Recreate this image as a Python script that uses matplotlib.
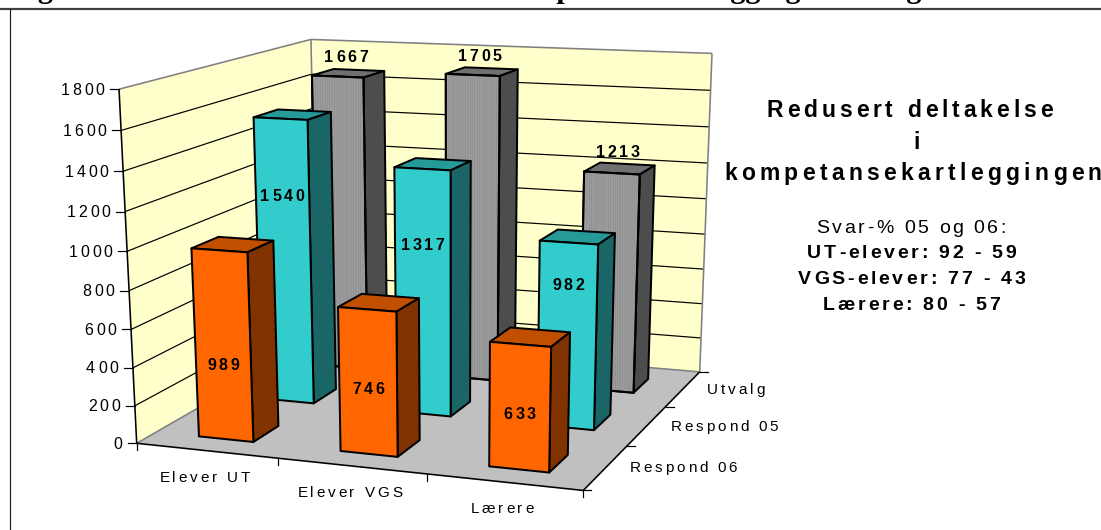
import numpy as np
import matplotlib
matplotlib.use('Agg')
import matplotlib.pyplot as plt
from matplotlib.patches import Polygon
from matplotlib.text import Text

kategorier = ['Elever UT', 'Elever VGS', 'Lærere']
serier = ['Respond 06', 'Respond 05', 'Utvalg']
respond_06 = [989, 746, 633]
respond_05 = [1540, 1317, 982]
utvalg = [1667, 1705, 1213]
y_ticks = [0, 200, 400, 600, 800, 1000, 1200, 1400, 1600, 1800]
svar_linjer = ['UT-elever: 92 - 59', 'VGS-elever: 77 - 43', 'Lærere: 80 - 57']
overskrift = ['Redusert deltakelse', 'i', 'kompetansekartleggingen']
tittel = 'Figur 1.5: Sterkt redusert deltakelse i kompetansekartlegging i 2005 og 2006'

# farger: front, side, topp
farger = [('#FF6600', '#803300', '#C04F00'),
          ('#33CCCC', '#1A6666', '#269999'),
          ('#9C9C9C', '#4D4D4D', '#707070')]
# hvor hoyt paa frontflaten tallet staar
label_hoyde = [[0.405, 0.46, 0.45], [0.735, 0.70, 0.78]]

# hjornene i boksen -> piksler i bildet, brukes til aa finne kameramatrisen
Z_MAX = 1800
box_3d = [(0, 0, 0), (0, 0, Z_MAX), (0, 3, 0), (0, 3, Z_MAX), (3, 3, 0), (3, 3, Z_MAX), (3, 0, 0)]
box_px = [(137, 442), (119, 89), (317, 341), (311, 39), (700, 370), (712, 54), (583, 492)]


def finn_kamera(pts, px):
    rader = []
    for (x, y, z), (u, v) in zip(pts, px):
        z = z / Z_MAX
        rader.append([x, y, z, 1, 0, 0, 0, 0, -u * x, -u * y, -u * z, -u])
        rader.append([0, 0, 0, 0, x, y, z, 1, -v * x, -v * y, -v * z, -v])
    return np.linalg.svd(np.array(rader, dtype=float))[2][-1].reshape(3, 4)


P = finn_kamera(box_3d, box_px)


def proj(x, y, z):
    u, v, w = P @ np.array([x, y, z / Z_MAX, 1.0])
    return u / w, v / w


class SpacedText(Text):
    # Text med luft mellom bokstavene, matplotlib har ikke letter-spacing selv
    def __init__(self, *args, tracking=0, **kwargs):
        super().__init__(*args, **kwargs)
        self.tracking = tracking

    def draw(self, renderer):
        s = self.get_text()
        prop = self.get_fontproperties()
        bredde = lambda t: renderer.get_text_width_height_descent(t, prop, False)[0]
        xx = bredde('xx')
        adv = [bredde('x' + c + 'x') - xx for c in s]
        total = sum(adv) + self.tracking * (len(s) - 1)
        x, y = self.get_transform().transform(self.get_position())
        if self.get_ha() == 'center':
            x -= total / 2
        elif self.get_ha() == 'right':
            x -= total
        y = renderer.height - y
        gc = renderer.new_gc()
        gc.set_foreground(self.get_color())
        gc.set_antialiased(True)
        for c, a in zip(s, adv):
            if c != ' ':
                renderer.draw_text(gc, x, y, c, prop, 0, False)
            x += a + self.tracking
        gc.restore()


plt.rcParams['hatch.linewidth'] = 0.4

fig = plt.figure(figsize=(11.01, 5.30), dpi=100)
ax = fig.add_axes([0, 0, 1, 1])
ax.set_xlim(0, 1101)
ax.set_ylim(530, 0)
ax.axis('off')

PX = 0.72  # en piksel i punkt


def skriv(x, y, s, size=11, bold=False, ha='center', tracking=3.0):
    t = SpacedText(x, y, s, tracking=tracking, ha=ha, va='baseline', color='black',
                   family='Liberation Sans', size=size, weight='bold' if bold else 'normal',
                   transform=ax.transData)
    ax.add_artist(t)
    return t


def flate(pts, farge, kant='black', lw=2.0, z=2):
    ax.add_patch(Polygon([proj(*p) for p in pts], closed=True, facecolor=farge,
                         edgecolor=kant, linewidth=lw * PX, joinstyle='round', zorder=z))


def linje(a, b, farge='black', lw=1.2, z=1.5):
    ax.plot(*zip(a, b), color=farge, lw=lw * PX, zorder=z, solid_capstyle='butt')


# ramme og tittel
ax.plot([0, 1101], [9, 9], color='#404040', lw=2.2 * PX, zorder=1)
ax.plot([10, 10], [9, 530], color='#202020', lw=1.2 * PX, zorder=1)
ax.text(11, -1.5, tittel, family='Liberation Serif', weight='bold', size=21.7, va='baseline', ha='left')

# vegger og gulv
flate([(0, 0, 0), (0, 3, 0), (0, 3, Z_MAX), (0, 0, Z_MAX)], '#FFFFCC', kant='none', z=1)
flate([(0, 3, 0), (3, 3, 0), (3, 3, Z_MAX), (0, 3, Z_MAX)], '#FFFFCC', kant='none', z=1)
flate([(0, 0, 0), (3, 0, 0), (3, 3, 0), (0, 3, 0)], '#C0C0C0', kant='none', z=1)

for t in y_ticks[1:-1]:
    linje(proj(0, 0, t), proj(0, 3, t))
    linje(proj(0, 3, t), proj(3, 3, t))

grå = '#808080'
linje(proj(0, 0, Z_MAX), proj(0, 3, Z_MAX), grå, 1.6)
linje(proj(0, 3, Z_MAX), proj(3, 3, Z_MAX), grå, 1.6)
linje(proj(0, 3, 0), proj(0, 3, Z_MAX), grå, 1.6)
linje(proj(3, 3, 0), proj(3, 3, Z_MAX), grå, 1.6)
linje(proj(0, 0, 0), proj(0, 3, 0), grå, 1.6)
linje(proj(0, 3, 0), proj(3, 3, 0), grå, 1.6)

# akser
linje(proj(0, 0, 0), proj(0, 0, Z_MAX), lw=1.6)
linje(proj(0, 0, 0), proj(3, 0, 0), lw=1.6)
linje(proj(3, 0, 0), proj(3, 3, 0), lw=1.6)

for t in y_ticks:
    u, v = proj(0, 0, t)
    ax.plot([u - 9, u], [v, v], color='black', lw=1.2 * PX, zorder=1.5)
    skriv(u - 14.5, v + 5.5, str(t), ha='right', size=11.5, tracking=2.8)

for i in range(4):
    u, v = proj(i, 0, 0)
    ax.plot([u, u], [v, v + 7], color='black', lw=1.2 * PX, zorder=1.5)
for i in range(4):
    u, v = proj(3, i, 0)
    ax.plot([u, u + 8], [v, v], color='black', lw=1.2 * PX, zorder=1.5)

for i, navn in enumerate(kategorier):
    u, v = proj(i + 0.5, 0, 0)
    skriv(u - 2, v + 31, navn, tracking=2.8)
for j, navn in enumerate(serier):
    u, v = proj(3, j + 0.5, 0)
    skriv(u + 24, v + 5, navn, ha='left', tracking=2.8)

# soylene, bakerste serie forst
bar_pad_x, bar_b = 0.31, 0.39
bar_pad_y, bar_d = 0.28, 0.40
verdier = [respond_06, respond_05, utvalg]
for j in [2, 1, 0]:
    front, side, topp = farger[j]
    for i, h in enumerate(verdier[j]):
        x0, x1 = i + bar_pad_x, i + bar_pad_x + bar_b
        y0, y1 = j + bar_pad_y, j + bar_pad_y + bar_d
        z = 3 + (2 - j) + i * 0.1
        flate([(x0, y0, h), (x1, y0, h), (x1, y1, h), (x0, y1, h)], topp, z=z)
        flate([(x1, y0, 0), (x1, y1, 0), (x1, y1, h), (x1, y0, h)], side, z=z)
        flate([(x0, y0, 0), (x1, y0, 0), (x1, y0, h), (x0, y0, h)], front, z=z)
        if j == 2:
            # stripete moenster paa de graa soylene
            ax.add_patch(Polygon([proj(x0, y0, 0), proj(x1, y0, 0), proj(x1, y0, h), proj(x0, y0, h)],
                                 closed=True, facecolor='none', edgecolor='#8A8A8A', hatch='|||||||',
                                 linewidth=0, zorder=z + 0.01))
            ax.add_patch(Polygon([proj(x0, y0, 0), proj(x1, y0, 0), proj(x1, y0, h), proj(x0, y0, h)],
                                 closed=True, facecolor='none', edgecolor='black',
                                 linewidth=2.0 * PX, zorder=z + 0.02))
            u, v = proj((x0 + x1) / 2, (y0 + y1) / 2, h)
            t = skriv(u - 2, v - 11, str(h), size=11.5, bold=True, tracking=2.7)
        else:
            u, v = proj((x0 + x1) / 2, y0, h * label_hoyde[j][i])
            t = skriv(u, v + 5.5, str(h), size=11.5, bold=True, tracking=2.7)
        t.set_zorder(10)

# tekst til hoyre
skriv(909.5, 117, overskrift[0], size=16.5, bold=True, tracking=3.9)
skriv(917, 149, overskrift[1], size=16.5, bold=True, tracking=3.9)
skriv(913, 180, overskrift[2], size=16.5, bold=True, tracking=4.3)
skriv(911, 233, 'Svar-% 05 og 06:', size=14, tracking=2.6)
for s, y in zip(svar_linjer, [258, 284, 310]):
    skriv(911.5, y, s, size=14, bold=True, tracking=2.8)

fig.savefig('out.png', dpi=100)
